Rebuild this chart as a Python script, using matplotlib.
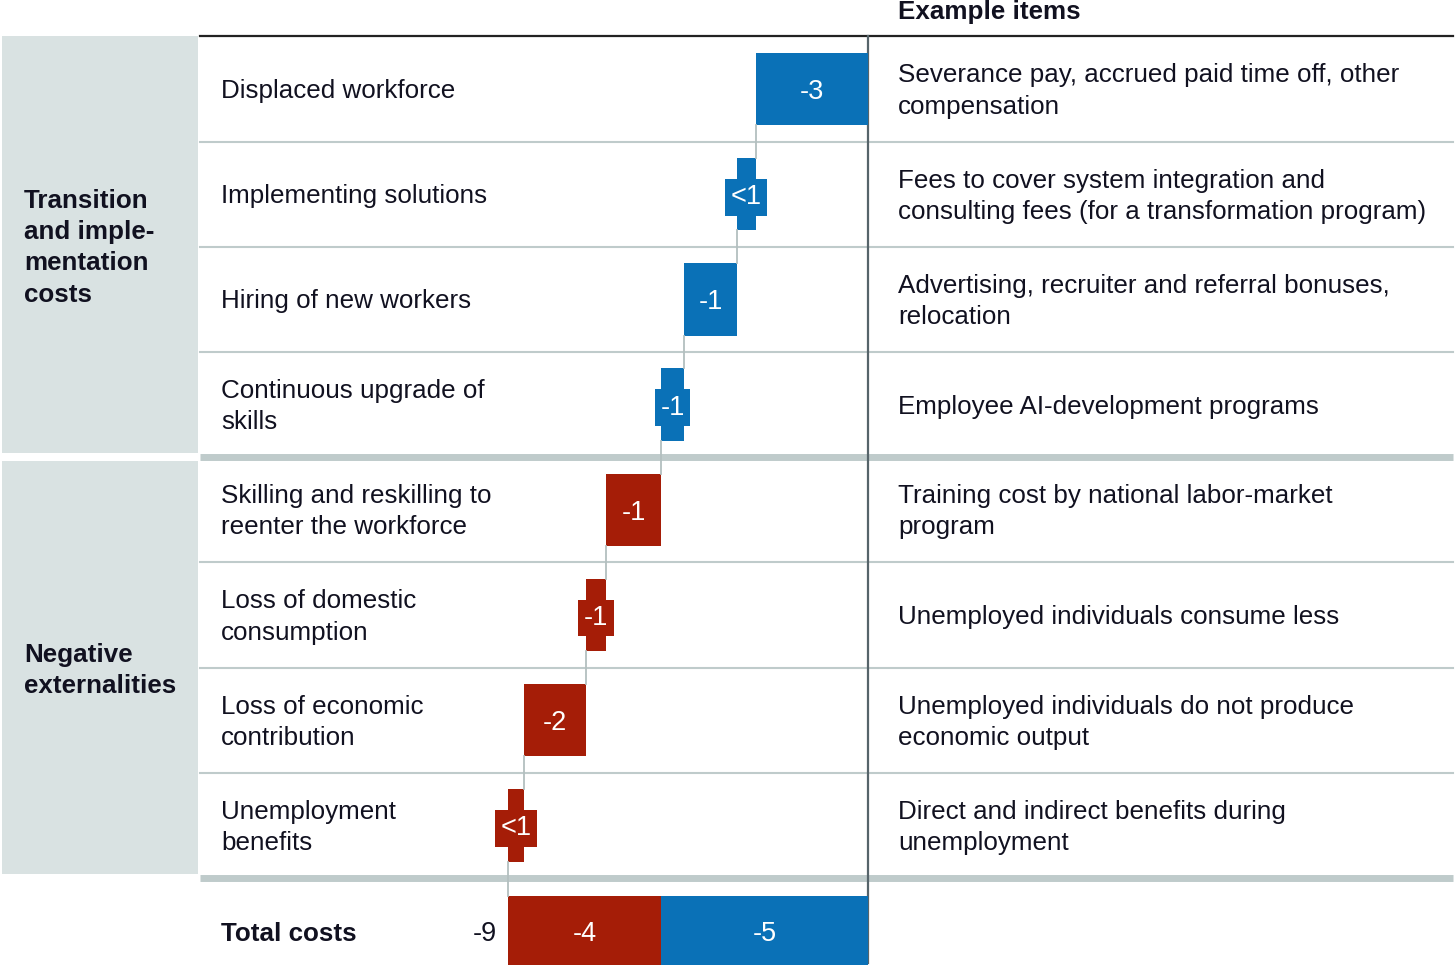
import numpy as np
import matplotlib.pyplot as plt

plt.rcParams['font.family'] = ['Liberation Sans', 'DejaVu Sans']

# data
row_labels = ["Displaced workforce", "Implementing solutions", "Hiring of new workers",
              "Continuous upgrade of\nskills", "Skilling and reskilling to\nreenter the workforce",
              "Loss of domestic\nconsumption", "Loss of economic\ncontribution",
              "Unemployment\nbenefits"]
examples = ["Severance pay, accrued paid time off, other\ncompensation",
            "Fees to cover system integration and\nconsulting fees (for a transformation program)",
            "Advertising, recruiter and referral bonuses,\nrelocation",
            "Employee AI-development programs",
            "Training cost by national labor-market\nprogram",
            "Unemployed individuals consume less",
            "Unemployed individuals do not produce\neconomic output",
            "Direct and indirect benefits during\nunemployment"]
values = [-2.75, -0.45, -1.3, -0.55, -1.35, -0.5, -1.5, -0.4]
value_labels = ["-3", "<1", "-1", "-1", "-1", "-1", "-2", "<1"]
groups = ["Transition\nand imple-\nmentation\ncosts", "Negative\nexternalities"]
group_of_row = [0, 0, 0, 0, 1, 1, 1, 1]
total_labels = ["-5", "-4"]   # per group
grand_total_label = "-9"

blue = '#0a71b7'
red = '#a51d07'
colors = [blue, red]
panel = '#d9e2e2'
sep = '#bfcbcb'
ink = '#111120'

W, H = 1455, 965
fig = plt.figure(figsize=(W / 100, H / 100), dpi=100)

# table layer in pixel coordinates
ax = fig.add_axes([0, 0, 1, 1])
ax.set_xlim(0, W)
ax.set_ylim(H, 0)
ax.axis('off')

y0, dy = 89, 105.2
rows = np.arange(len(values))
ycent = y0 + dy * rows
fs = 18.7
ls = 1.38

# group panels
for g in range(len(groups)):
    idx = [i for i in rows if group_of_row[i] == g]
    top = y0 + dy * (idx[0] - 0.5) + (0 if g == 0 else 4)
    bot = y0 + dy * (idx[-1] + 0.5) - 4
    ax.add_patch(plt.Rectangle((2, top), 196, bot - top, color=panel, lw=0))
    ax.text(24, (top + bot) / 2 + 3, groups[g], fontsize=fs, fontweight='bold',
            color=ink, va='center', ha='left', linespacing=ls)

# lines
ax.plot([200, 1453], [36, 36], color='#222222', lw=1.6)
for i in rows[:-1]:
    yb = y0 + dy * (i + 0.5)
    if group_of_row[i] != group_of_row[i + 1]:
        ax.plot([200, 1453], [yb, yb], color=sep, lw=5, solid_capstyle='butt')
    else:
        ax.plot([200, 1453], [yb, yb], color=sep, lw=1.5)
yb = y0 + dy * (len(rows) - 0.5)
ax.plot([200, 1453], [yb, yb], color=sep, lw=5, solid_capstyle='butt')
ax.plot([868, 868], [36, 963], color='#56646a', lw=1.6)

for i in rows:
    ax.text(221, ycent[i] + 2, row_labels[i], fontsize=fs, color=ink, va='center',
            ha='left', linespacing=ls)
    ax.text(898, ycent[i] + 2, examples[i], fontsize=fs, color=ink, va='center',
            ha='left', linespacing=ls)

ax.text(898, 12, "Example items", fontsize=fs, fontweight='bold', color=ink,
        va='center', ha='left')
ax.text(221, y0 + dy * len(rows) + 3, "Total costs", fontsize=fs, fontweight='bold',
        color=ink, va='center', ha='left')

# bar layer
total = -sum(values)
ppu = 360 / total
bx = fig.add_axes([200 / W, 0, 668 / W, (H - 36) / H])
bx.set_xlim(-(668 / ppu), 0)
bx.set_ylim((H - y0) / dy, (36 - y0) / dy)
bx.axis('off')
bx.patch.set_alpha(0)

ends = np.cumsum(values)
starts = ends - np.array(values)
bh = 0.69
vfs = 19.5
for i in rows:
    c = colors[group_of_row[i]]
    bx.barh(i, values[i], left=starts[i], height=bh, color=c, lw=0)
    xm = starts[i] + values[i] / 2
    if abs(values[i]) < 0.7:
        bx.text(xm, i, value_labels[i], fontsize=vfs, color='white', ha='center',
                va='center_baseline',
                bbox=dict(boxstyle='square,pad=0.2', fc=c, ec='none'))
    else:
        bx.text(xm, i, value_labels[i], fontsize=vfs, color='white', ha='center',
                va='center_baseline')

# connectors
n = len(rows)
for i in rows:
    nxt_h = bh if i < n - 1 else 0.66
    bx.plot([ends[i], ends[i]], [i + bh / 2, i + 1 - nxt_h / 2], color='#b3bfbf', lw=1.3)

# totals
sums = [sum(v for v, g in zip(values, group_of_row) if g == k) for k in range(2)]
left = ends[-1]
for k in [1, 0]:
    bx.barh(n, -sums[k], left=left, height=0.66, color=colors[k], lw=0)
    bx.text(left - sums[k] / 2, n, total_labels[k], fontsize=vfs, color='white',
            ha='center', va='center_baseline')
    left = left - sums[k]
bx.text(ends[-1] - 0.27, n, grand_total_label, fontsize=vfs, color=ink,
        ha='right', va='center_baseline')

fig.savefig('out.png', dpi=100)
